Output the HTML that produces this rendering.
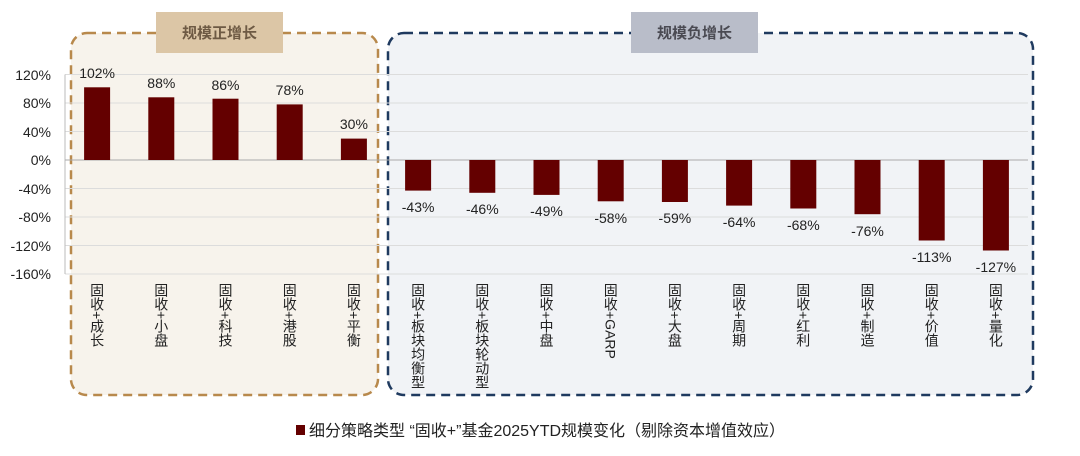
<!DOCTYPE html>
<html><head><meta charset="utf-8"><style>
body{margin:0;background:#fff;}
svg text{font-family:"Liberation Sans","Noto Sans CJK SC",sans-serif;}
.v{writing-mode:vertical-rl;}
</style></head><body>
<svg width="1080" height="451" viewBox="0 0 1080 451" xmlns="http://www.w3.org/2000/svg">
<rect x="71" y="33" width="307" height="362" rx="16" fill="#f7f3ec" stroke="#b8894c" stroke-width="2.5" stroke-dasharray="9,6"/>
<rect x="388" y="33" width="645" height="362" rx="16" fill="#f1f3f6" stroke="#1f3a5f" stroke-width="2.5" stroke-dasharray="9,6"/>
<rect x="156" y="12" width="127" height="41" fill="#dcc6a6"/>
<text x="219.5" y="38" font-size="15" font-weight="bold" fill="#6e5a44" text-anchor="middle">规模正增长</text>
<rect x="631" y="12" width="127" height="41" fill="#b9bdc9"/>
<text x="694.5" y="38" font-size="15" font-weight="bold" fill="#4a4a52" text-anchor="middle">规模负增长</text>
<g stroke="#dcdcdc" stroke-width="1">
<line x1="65" x2="1028" y1="74.5" y2="74.5"/><line x1="65" x2="1028" y1="103" y2="103"/><line x1="65" x2="1028" y1="131.5" y2="131.5"/>
<line x1="65" x2="1028" y1="188.5" y2="188.5"/><line x1="65" x2="1028" y1="217" y2="217"/><line x1="65" x2="1028" y1="245.5" y2="245.5"/><line x1="65" x2="1028" y1="274" y2="274"/>
</g>
<line x1="65" x2="65" y1="74.5" y2="274" stroke="#bbb"/>
<line x1="65" x2="1028" y1="160" y2="160" stroke="#aaa"/>
<g font-size="14" fill="#222" text-anchor="end">
<text x="51" y="80">120%</text><text x="51" y="108">80%</text><text x="51" y="137">40%</text><text x="51" y="165">0%</text>
<text x="51" y="194">-40%</text><text x="51" y="222">-80%</text><text x="51" y="251">-120%</text><text x="51" y="279">-160%</text>
</g>
<g fill="#640000">
<rect x="84.1" y="87.3" width="26" height="72.7"/>
<rect x="148.3" y="97.3" width="26" height="62.7"/>
<rect x="212.5" y="98.7" width="26" height="61.3"/>
<rect x="276.7" y="104.4" width="26" height="55.6"/>
<rect x="340.9" y="138.6" width="26" height="21.4"/>
<rect x="405.1" y="160" width="26" height="30.6"/>
<rect x="469.3" y="160" width="26" height="32.8"/>
<rect x="533.5" y="160" width="26" height="34.9"/>
<rect x="597.7" y="160" width="26" height="41.3"/>
<rect x="661.9" y="160" width="26" height="42"/>
<rect x="726.1" y="160" width="26" height="45.6"/>
<rect x="790.3" y="160" width="26" height="48.5"/>
<rect x="854.5" y="160" width="26" height="54.2"/>
<rect x="918.7" y="160" width="26" height="80.5"/>
<rect x="982.9" y="160" width="26" height="90.5"/>
</g>
<g font-size="14" fill="#222" text-anchor="middle">
<text x="97.1" y="78">102%</text><text x="161.3" y="88">88%</text><text x="225.5" y="90">86%</text><text x="289.7" y="95">78%</text><text x="353.9" y="129">30%</text>
<text x="418.1" y="212">-43%</text><text x="482.3" y="214">-46%</text><text x="546.5" y="216">-49%</text><text x="610.7" y="223">-58%</text><text x="674.9" y="223">-59%</text>
<text x="739.1" y="227">-64%</text><text x="803.3" y="230">-68%</text><text x="867.5" y="236">-76%</text><text x="931.7" y="262">-113%</text><text x="995.9" y="272">-127%</text>
</g>
<g font-size="14" fill="#222" class="v">
<text x="97.1" y="283">固收+成长</text><text x="161.3" y="283">固收+小盘</text><text x="225.5" y="283">固收+科技</text><text x="289.7" y="283">固收+港股</text><text x="353.9" y="283">固收+平衡</text>
<text x="418.1" y="283">固收+板块均衡型</text><text x="482.3" y="283">固收+板块轮动型</text><text x="546.5" y="283">固收+中盘</text><text x="610.7" y="283">固收+GARP</text><text x="674.9" y="283">固收+大盘</text>
<text x="739.1" y="283">固收+周期</text><text x="803.3" y="283">固收+红利</text><text x="867.5" y="283">固收+制造</text><text x="931.7" y="283">固收+价值</text><text x="995.9" y="283">固收+量化</text>
</g>
<rect x="296" y="425" width="9" height="10" fill="#640000"/>
<text x="309" y="436" font-size="16" fill="#222">细分策略类型 “固收+”基金2025YTD规模变化（剔除资本增值效应）</text>
</svg>
</body></html>
